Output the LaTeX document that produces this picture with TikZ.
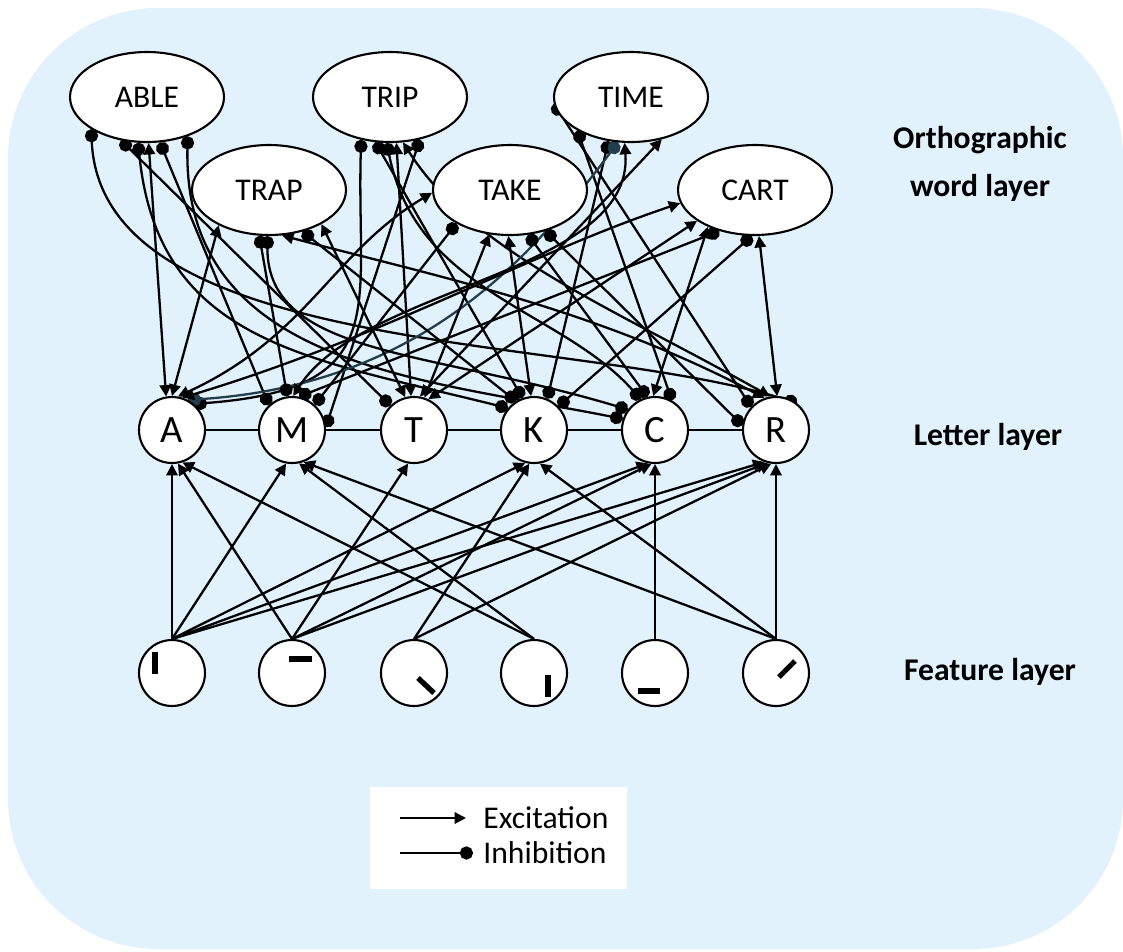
\documentclass[tikz,border=0pt]{standalone}
\usepackage{fontspec}
\setmainfont{Carlito}
\usetikzlibrary{arrows.meta,shapes.geometric}
\definecolor{panel}{HTML}{E2F2FD}
\definecolor{slateline}{HTML}{223D4C}
\pgfdeclarelayer{bg}
\pgfdeclarelayer{links}
\pgfsetlayers{bg,links,main}

\begin{document}
\begin{tikzpicture}[x=0.02cm,y=0.02cm,
  word/.style={ellipse,draw,fill=white,line width=1.2pt,minimum width=3.08cm,
    minimum height=1.8cm,inner sep=0pt,font=\fontsize{18}{21}\selectfont},
  letter/.style={circle,draw,fill=white,line width=1.2pt,minimum size=1.32cm,
    inner sep=0pt,font=\fontsize{22}{26}\selectfont},
  feature/.style={circle,draw,fill=white,line width=1.2pt,minimum size=1.32cm,inner sep=0pt},
  link/.style={line width=1.3pt},
  exc/.style={link,{Triangle[length=6.5pt,width=6.5pt]}-{Triangle[length=6.5pt,width=6.5pt]}},
  inh/.style={link,{Circle[length=7.5pt]}-{Circle[length=7.5pt]}},
  feed/.style={link,-{Triangle[length=6.5pt,width=6.5pt]}},
  bar/.style={line width=3pt},
  layerlabel/.style={font=\bfseries\fontsize{18}{27}\selectfont},
  legendtext/.style={anchor=west,inner sep=0pt,font=\fontsize{18}{21}\selectfont}
]
\useasboundingbox (0,0) rectangle (1123,-951);

% panel
\begin{pgfonlayer}{bg}
  \fill[panel,rounded corners=3cm] (8,-8) rectangle (1123,-949);
\end{pgfonlayer}

% word layer
\node[word] (ABLE) at (147,-97)  {ABLE};
\node[word] (TRIP) at (390,-97)  {TRIP};
\node[word] (TIME) at (631,-97)  {TIME};
\node[word] (TRAP) at (269,-190) {TRAP};
\node[word] (TAKE) at (510,-190) {TAKE};
\node[word] (CART) at (755,-190) {CART};

% letter layer
\node[letter] (A) at (172,-430) {A};
\node[letter] (M) at (292,-430) {M};
\node[letter] (T) at (414,-430) {T};
\node[letter] (K) at (534,-430) {K};
\node[letter] (C) at (655,-430) {C};
\node[letter] (R) at (776,-430) {R};

% feature layer
\node[feature] (F1) at (172,-673) {};
\node[feature] (F2) at (292,-673) {};
\node[feature] (F3) at (414,-673) {};
\node[feature] (F4) at (534,-673) {};
\node[feature] (F5) at (655,-673) {};
\node[feature] (F6) at (776,-673) {};

% feature strokes
\draw[bar] (155,-652) -- (155,-674);
\draw[bar] (289,-659) -- (312,-659);
\draw[bar] (418,-678) -- (434,-693);
\draw[bar] (548,-675) -- (548,-697);
\draw[bar] (638,-691) -- (660,-691);
\draw[bar] (779,-677) -- (795,-661);

% layer names
\node[layerlabel,align=center] (orth) at (980,-164) {Orthographic\\word layer};
\node[layerlabel,inner sep=0pt] (lett) at (988,-437) {Letter layer};
\node[layerlabel,inner sep=0pt] (feat) at (990,-672) {Feature layer};

% legend
\node[fill=white,minimum width=5.14cm,minimum height=2.04cm,inner sep=0pt] (legend) at (498.5,-838) {};
\coordinate (exA) at (400,-818);
\coordinate (exB) at (466,-818);
\coordinate (inA) at (400,-853);
\coordinate (inB) at (473,-853);
\draw[feed] (exA) -- (exB);
\draw[link,-{Circle[length=7.5pt]}] (inA) -- (inB);
\node[legendtext] (extext) at (483,-818) {Excitation};
\node[legendtext] (intext) at (483,-853) {Inhibition};

\begin{pgfonlayer}{links}
  % letters in a row
  \draw[link] (A) -- (M) -- (T) -- (K) -- (C) -- (R);

  % features to letters
  \draw[feed] (F1.north) -- (A.south);
  \draw[feed] (F1.north) -- (M.-100);
  \draw[feed] (F1.north) -- (K.-105);
  \draw[feed] (F1.north) -- (C.-102);
  \draw[feed] (F1.north) -- (R.-110);
  \draw[feed] (F2.north) -- (A.-80);
  \draw[feed] (F2.north) -- (T.-100);
  \draw[feed] (F2.north) -- (C.-96);
  \draw[feed] (F2.north) -- (R.-104);
  \draw[feed] (F3.north) -- (K.-98);
  \draw[feed] (F3.north) -- (R.-98);
  \draw[feed] (F4.north) -- (A.-72);
  \draw[feed] (F4.north) -- (M.-78);
  \draw[feed] (F5.north) -- (C.south);
  \draw[feed] (F6.north) -- (M.-70);
  \draw[feed] (F6.north) -- (K.-80);
  \draw[feed] (F6.north) -- (R.south);

  % ABLE
  \draw[inh] (ABLE.210) .. controls +(10,-230) and +(-220,70) .. (R.52);
  \draw[inh] (ABLE.239) -- (T.134);
  \draw[exc] (ABLE.272) -- (A.100);
  \draw[inh] (ABLE.286) -- (M.133);
  \draw[inh] (ABLE.259) .. controls +(20,-200) and +(-200,50) .. (K.140);
  \draw[inh] (ABLE.316) .. controls +(-5,-230) and +(-200,40) .. (C.161);

  % TRIP
  \draw[inh] (TRIP.236) .. controls +(-5,-170) and +(200,15) .. (A.50);
  \draw[inh] (TRIP.305) -- (M.5);
  \draw[exc] (TRIP.278) -- (T.95);
  \draw[inh] (TRIP.252) -- (K.110);
  \draw[inh] (TRIP.266) .. controls +(30,-150) and +(-80,90) .. (C.115);
  \draw[exc] (TRIP.286) .. controls +(70,-110) and +(-160,90) .. (R.100);

  % TIME
  \draw[inh] (TIME.185) -- (R.137);
  \draw[inh] (TIME.212) -- (C.60);
  \draw[inh] (TIME.243) -- (K.67);
  \draw[inh,draw=slateline] (TIME.254) .. controls +(-90,-120) and +(230,15) .. (A.62);
  \draw[exc] (TIME.262) .. controls +(10,-130) and +(70,110) .. (M.88);
  \draw[exc] (TIME.306) -- (T.80);

  % TRAP
  \draw[exc] (TRAP.215) -- (A.90);
  \draw[inh] (TRAP.258) -- (M.98);
  \draw[inh] (TRAP.268) .. controls +(0,-120) and +(-200,60) .. (C.143);
  \draw[exc] (TRAP.286) .. controls +(150,-40) and +(-170,90) .. (R.110);
  \draw[inh] (TRAP.309) -- (K.122);
  \draw[exc] (TRAP.327) -- (T.105);

  % TAKE
  \draw[exc] (TAKE.182) .. controls +(-100,-60) and +(130,60) .. (A.80);
  \draw[inh] (TAKE.212) -- (M.48);
  \draw[exc] (TAKE.245) -- (T.72);
  \draw[exc] (TAKE.268) -- (K.95);
  \draw[inh] (TAKE.292) -- (C.103);
  \draw[inh] (TAKE.311) -- (R.172);

  % CART
  \draw[exc] (CART.190) .. controls +(-150,-50) and +(200,60) .. (A.72);
  \draw[inh] (CART.229) -- (M.78);
  \draw[exc] (CART.208) -- (T.65);
  \draw[exc] (CART.218) -- (C.93);
  \draw[inh] (CART.266) -- (K.44);
  \draw[exc] (CART.275) -- (R.88);
\end{pgfonlayer}
\end{tikzpicture}
\end{document}
